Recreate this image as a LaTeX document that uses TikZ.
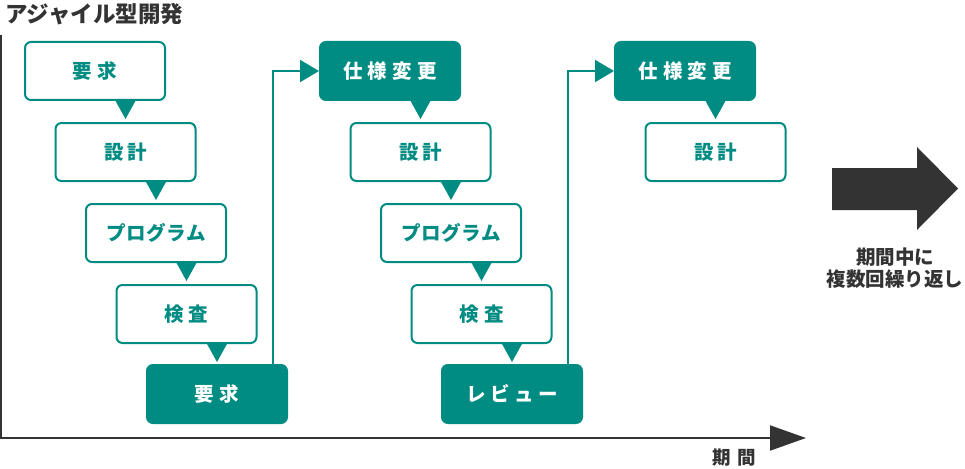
\documentclass[tikz,border=0pt]{standalone}
\usepackage{fontspec}
\setmainfont{Noto Sans CJK JP}
\usetikzlibrary{arrows.meta,calc}
\definecolor{tealc}{RGB}{0,140,130}
\definecolor{darkc}{RGB}{51,51,51}
\newcommand\droptri[2]{\fill[tealc] ($(#1.south -| #2.north)+(-10.5,-1)$) -- ++(21,0) -- ++(-10.5,19) -- cycle;}
\begin{document}
\begin{tikzpicture}[x=1pt,y=-1pt,
  box/.style={draw=tealc, line width=2pt, rounded corners=6pt, minimum width=140pt, minimum height=58pt, inner sep=0pt, fill=white, text=tealc, font=\fontsize{19.5}{22}\selectfont\bfseries},
  filledbox/.style={box, fill=tealc, text=white},
  conn/.style={draw=tealc, line width=2pt, -{Triangle[length=19pt,width=22pt]}},
  axis/.style={draw=darkc, line width=2pt, -{Triangle[length=36pt,width=25pt]}},
  lbl/.style={text=darkc, inner sep=0pt}
]
\useasboundingbox (0,0) rectangle (965,468);
% title
\node[lbl, anchor=west, font=\fontsize{22.5}{25}\selectfont\bfseries] (title) at (5,14) {アジャイル型開発};
% column 1
\node[box] (a1) at (95,71) {要\kern6pt求};
\node[box] (a2) at (125.5,152) {設\kern4pt計};
\node[box] (a3) at (156,233) {プ\kern0.5pt ロ\kern0.5pt グ\kern0.5pt ラ\kern0.5pt ム};
\node[box] (a4) at (186.5,314) {検\kern5pt査};
\node[filledbox] (a5) at (217,394) {要\kern6pt求};
% column 2
\node[filledbox] (b1) at (390,71) {仕\kern5pt様\kern5pt変\kern5pt更};
\node[box] (b2) at (420.5,152) {設\kern4pt計};
\node[box] (b3) at (451,233) {プ\kern0.5pt ロ\kern0.5pt グ\kern0.5pt ラ\kern0.5pt ム};
\node[box] (b4) at (481.5,314) {検\kern5pt査};
\node[filledbox] (b5) at (512,394) {レ\kern4.5pt ビ\kern4.5pt ュ\kern4.5pt ー};
% column 3
\node[filledbox] (c1) at (685,71) {仕\kern5pt様\kern5pt変\kern5pt更};
\node[box] (c2) at (715.5,152) {設\kern4pt計};
% drop triangles
\droptri{a1}{a2}
\droptri{a2}{a3}
\droptri{a3}{a4}
\droptri{a4}{a5}
\droptri{b1}{b2}
\droptri{b2}{b3}
\droptri{b3}{b4}
\droptri{b4}{b5}
\droptri{c1}{c2}
% connectors
\draw[conn] ([xshift=-15pt]a5.north east) |- (b1.west);
\draw[conn] ([xshift=-15pt]b5.north east) |- (c1.west);
% axes
\coordinate (ytop) at (1,35);
\coordinate (origin) at (1,438);
\coordinate (xend) at (806,438);
\draw[axis] (ytop) -- (origin) -- (xend);
\node[lbl, font=\fontsize{18.5}{20}\selectfont\bfseries] (period) at (734,458) {期\kern6pt間};
% big arrow
\fill[darkc] (832,168) -- (917,168) -- (917,147) -- (958,188.5) -- (917,230) -- (917,210) -- (832,210) -- cycle;
\node[lbl, align=center, font=\fontsize{19.5}{21.5}\selectfont\bfseries] (repeat) at (895,268) {期間中に\\複数回繰り返し};
\end{tikzpicture}
\end{document}
